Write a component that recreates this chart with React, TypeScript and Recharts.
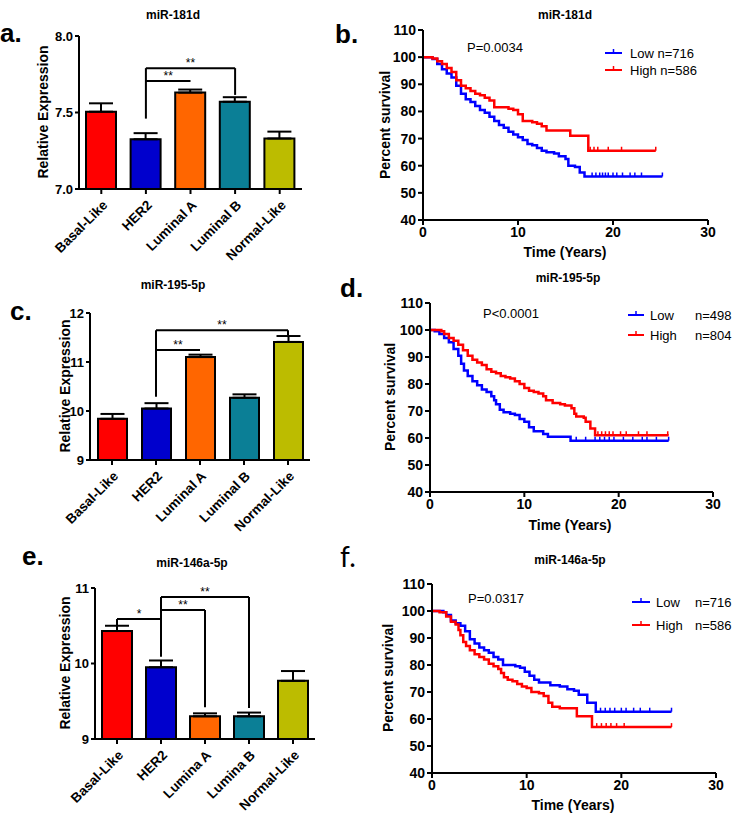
import React from 'react';
import {
  BarChart, Bar, XAxis, YAxis, ErrorBar, Cell, ReferenceLine, LineChart, Line,
} from 'recharts';

const FONT = "Arial, 'Liberation Sans', Helvetica, sans-serif";
const LETTER_FONT = "Lato, 'Liberation Sans', sans-serif";

// ---------- bar panels ----------
const subtypeNames = ['Basal-Like', 'HER2', 'Luminal A', 'Luminal B', 'Normal-Like'];
const subtypeNamesE = ['Basal-Like', 'HER2', 'Lumina A', 'Lumina B', 'Normal-Like'];
const subtypeColors = ['#ff0000', '#0000cd', '#ff6600', '#0b7f96', '#bcbc00'];

const a_means = [7.505, 7.325, 7.63, 7.57, 7.33];
const a_sem = [0.055, 0.04, 0.02, 0.03, 0.045];
const a_ticks = [7.0, 7.5, 8.0];

const c_means = [9.84, 10.05, 11.1, 10.27, 11.41];
const c_sem = [0.1, 0.11, 0.05, 0.07, 0.12];
const c_ticks = [9, 10, 11, 12];

const e_means = [10.43, 9.95, 9.3, 9.3, 9.77];
const e_sem = [0.07, 0.09, 0.04, 0.05, 0.13];
const e_ticks = [9, 10, 11];

const a_brackets = [
  { from: 'HER2', to: 'Luminal A', y: 7.706, label: '**' },
  { from: 'HER2', to: 'Luminal B', y: 7.79, label: '**' },
];
const a_drops = [
  { at: 'HER2', top: 7.79, bottom: 7.46 },
  { at: 'Luminal B', top: 7.79, bottom: 7.615 },
];
const c_brackets = [
  { from: 'HER2', to: 'Luminal A', y: 11.245, label: '**' },
  { from: 'HER2', to: 'Normal-Like', y: 11.65, label: '**' },
];
const c_drops = [
  { at: 'HER2', top: 11.65, bottom: 10.29 },
  { at: 'Normal-Like', top: 11.65, bottom: 11.55 },
];
const e_brackets = [
  { from: 'Basal-Like', to: 'HER2', y: 10.59, label: '*' },
  { from: 'HER2', to: 'Lumina A', y: 10.71, label: '**' },
  { from: 'HER2', to: 'Lumina B', y: 10.88, label: '**' },
];
const e_drops = [
  { at: 'Basal-Like', top: 10.59, bottom: 10.51 },
  { at: 'HER2', top: 10.88, bottom: 10.09 },
  { at: 'Lumina A', top: 10.71, bottom: 9.42 },
  { at: 'Lumina B', top: 10.88, bottom: 9.41 },
];

// ---------- survival panels ----------
const b_lowT = [0, 0.5, 1, 1.5, 2, 2.5, 3, 3.5, 4, 4.5, 5, 5.5, 6, 6.5, 7, 7.5, 8, 8.5, 9, 9.5, 10, 10.5, 11, 11.5, 12, 12.5, 13, 13.8, 14.3, 15, 15.3, 16, 16.5, 17, 25.2];
const b_lowS = [100, 100, 99.3, 97.5, 95.5, 94, 92.5, 89.5, 86.5, 84.5, 83.5, 82, 80.5, 79.5, 78, 76.5, 75, 74, 72.5, 71.5, 70.5, 69.5, 68, 67.5, 66.5, 65.5, 65, 64.5, 63.5, 62.5, 60, 59.5, 57.5, 56, 56];
const b_highT = [0, 1, 1.5, 2, 2.5, 3, 3.5, 4, 4.5, 5, 5.5, 6, 6.5, 7, 7.5, 9, 9.5, 10, 10.5, 11.5, 12, 12.5, 13, 15.5, 17.4, 24.5];
const b_highS = [100, 99.5, 98.5, 97.5, 96, 94.5, 91.5, 89.5, 88.5, 87.5, 86.5, 86, 85, 84, 81.5, 81, 80.5, 79, 76.5, 76, 75.5, 74.5, 73, 71, 65.5, 65.5];
const b_lowCensor = [17.8, 18.2, 18.6, 18.9, 19.2, 19.5, 20.0, 20.4, 21.0, 21.8, 22.3, 23.0, 25.2];
const b_highCensor = [17.6, 18.0, 18.4, 19.5, 20.9, 24.5];

const d_lowT = [0, 0.5, 1, 1.5, 2, 2.5, 3, 3.3, 3.6, 4, 4.5, 5, 5.5, 6, 6.5, 6.8, 7, 7.4, 7.8, 8.5, 9, 9.5, 10, 10.5, 11, 12, 12.5, 14.9, 25.3];
const d_lowS = [100, 99.5, 98.5, 97, 95.5, 93, 90.5, 87.5, 85, 83, 81, 79.5, 78, 77, 75.5, 74, 72.5, 70.5, 69.5, 69, 68.5, 67, 66, 64, 62.5, 61.5, 60.5, 59, 59];
const d_highT = [0, 1.2, 1.5, 2, 2.5, 3, 3.5, 4, 4.5, 5, 5.5, 6, 6.5, 7, 7.5, 8, 8.5, 9, 9.5, 10, 10.5, 11, 11.5, 12, 12.3, 13, 13.8, 14.3, 15, 15.3, 15.5, 16.3, 16.5, 17, 17.5, 25.3];
const d_highS = [100, 99.5, 98.5, 97, 96, 94.5, 92.5, 90.5, 89, 88, 87, 85.5, 84.5, 84, 83, 82.5, 82, 81, 80, 78.5, 77.5, 77, 76.5, 75.5, 74, 73, 72.5, 72, 71, 69, 68, 67.5, 66, 63.5, 61, 61];
const d_lowCensor = [15.5, 16.5, 17.5, 18.0, 18.5, 19.0, 19.5, 20.5, 21.5, 22.5, 23.0, 24.0, 25.3];
const d_highCensor = [17.8, 18.2, 18.6, 19.0, 19.4, 20.2, 20.8, 22.1, 23.0, 25.2];

const f_lowT = [0, 1.2, 1.5, 2, 2.5, 3, 3.5, 4, 4.5, 5, 5.5, 6, 6.5, 7, 7.5, 8.8, 9.3, 9.8, 10.3, 10.8, 11.3, 12.5, 13.5, 14.3, 15, 15.5, 16.4, 17.3, 25.3];
const f_lowS = [100, 99.5, 98.5, 96.5, 95.5, 94.5, 92.5, 89.5, 88, 86.5, 85.5, 84.5, 83, 82, 80, 79.5, 79, 77.5, 76, 74.5, 73.5, 72.5, 72, 71, 70.5, 69, 66, 62.7, 62.7];
const f_highT = [0, 0.8, 1.5, 2, 2.5, 2.8, 3, 3.3, 3.6, 4, 4.5, 5, 5.5, 6, 6.5, 7, 7.3, 7.6, 8, 8.5, 9, 9.5, 10, 10.5, 11.3, 11.8, 12.3, 12.7, 13.5, 15.3, 16.9, 25.3];
const f_highS = [100, 99.5, 98, 96, 95, 93, 91, 88.5, 87, 85.5, 84, 83, 82, 80.5, 79.5, 78.5, 77, 75.5, 74.5, 74, 73, 72, 71.5, 70, 69.5, 68.5, 66, 64.5, 64, 61, 57, 57];
const f_lowCensor = [17.8, 18.3, 18.8, 19.3, 20.0, 20.5, 21.3, 22.0, 23.0, 25.3];
const f_highCensor = [17.4, 17.9, 18.4, 18.9, 19.5, 20.3, 25.3];

const survTicksX = [0, 10, 20, 30];
const survTicksY = [40, 50, 60, 70, 80, 90, 100, 110];

const BLUE = '#0000ff';
const RED = '#ff0000';

const toSeries = (t: number[], s: number[]) => t.map((tt, i) => ({ t: tt, s: s[i] }));
const stepAt = (t: number[], s: number[], x: number) => {
  let v = s[0];
  for (let i = 0; i < t.length; i++) if (t[i] <= x) v = s[i];
  return v;
};
const toCensor = (t: number[], s: number[], c: number[]) => c.map((x) => ({ t: x, s: stepAt(t, s, x) }));

const axisStyle = { stroke: '#000', strokeWidth: 2 };

const RotTick = (p: any) => (
  <text
    transform={`translate(${p.x + 7},${p.y + 10}) rotate(-45)`}
    textAnchor="end"
    fontSize={13.5}
    fontWeight="bold"
    fontFamily={FONT}
    fill="#000"
  >
    {p.payload.value}
  </text>
);

function BarPanel(props: any) {
  const { names, means, sem, domain, ticks, fmt, width, height, margin, yWidth, xHeight, barSize, brackets, drops } = props;
  const data = names.map((n: string, i: number) => ({ name: n, value: means[i], err: [0, sem[i]] }));
  return (
    <BarChart width={width} height={height} data={data} margin={margin}>
      <XAxis
        dataKey="name"
        interval={0}
        height={xHeight}
        axisLine={axisStyle}
        tickLine={axisStyle}
        tickSize={5}
        tickMargin={2}
        tick={(p: any) => <RotTick {...p} />}
      />
      <YAxis
        type="number"
        domain={domain}
        ticks={ticks}
        allowDataOverflow
        width={yWidth}
        axisLine={axisStyle}
        tickLine={axisStyle}
        tickSize={4}
        tickMargin={2}
        tickFormatter={fmt}
        tick={{ fill: '#000', fontSize: 13, fontWeight: 'bold', fontFamily: FONT }}
      />
      <Bar dataKey="value" barSize={barSize} stroke="#000" strokeWidth={2} isAnimationActive={false}>
        {data.map((d: any, i: number) => (
          <Cell key={d.name} fill={subtypeColors[i]} />
        ))}
        <ErrorBar dataKey="err" width={12} strokeWidth={2} stroke="#000" direction="y" />
      </Bar>
      {drops.map((d: any, i: number) => (
        <ReferenceLine
          key={'d' + i}
          segment={[{ x: d.at, y: d.top }, { x: d.at, y: d.bottom }]}
          stroke="#000"
          strokeWidth={2}
          ifOverflow="visible"
        />
      ))}
      {brackets.map((b: any, i: number) => (
        <ReferenceLine
          key={'b' + i}
          segment={[{ x: b.from, y: b.y }, { x: b.to, y: b.y }]}
          stroke="#000"
          strokeWidth={2}
          ifOverflow="visible"
          label={{ value: b.label, position: 'top', offset: 1, fill: '#000', fontSize: 12, fontFamily: FONT }}
        />
      ))}
    </BarChart>
  );
}

const CensorDot = (color: string) => (p: any) => (
  <line key={`c${p.index}`} x1={p.cx} x2={p.cx} y1={p.cy - 4} y2={p.cy} stroke={color} strokeWidth={1.5} />
);

function SurvPanel(props: any) {
  const { width, height, margin, yWidth, xHeight, low, high, lowCensor, highCensor } = props;
  return (
    <LineChart width={width} height={height} margin={margin}>
      <XAxis
        type="number"
        dataKey="t"
        domain={[0, 30]}
        ticks={survTicksX}
        height={xHeight}
        axisLine={axisStyle}
        tickLine={axisStyle}
        tickSize={5}
        tickMargin={2}
        tick={{ fill: '#000', fontSize: 14, fontWeight: 'bold', fontFamily: FONT }}
      />
      <YAxis
        type="number"
        domain={[40, 110]}
        ticks={survTicksY}
        allowDataOverflow
        width={yWidth}
        axisLine={axisStyle}
        tickLine={axisStyle}
        tickSize={5}
        tickMargin={2}
        tick={{ fill: '#000', fontSize: 14, fontWeight: 'bold', fontFamily: FONT }}
      />
      <Line data={low} dataKey="s" type="stepAfter" stroke={BLUE} strokeWidth={2.5} dot={false} isAnimationActive={false} />
      <Line data={high} dataKey="s" type="stepAfter" stroke={RED} strokeWidth={2.5} dot={false} isAnimationActive={false} />
      <Line data={lowCensor} dataKey="s" stroke="none" dot={CensorDot(BLUE)} isAnimationActive={false} />
      <Line data={highCensor} dataKey="s" stroke="none" dot={CensorDot(RED)} isAnimationActive={false} />
    </LineChart>
  );
}

const LegendIcon = ({ x1, x2, y, color }: any) => (
  <g>
    <line x1={x1} x2={x2} y1={y} y2={y} stroke={color} strokeWidth={2} />
    <line x1={(x1 + x2) / 2} x2={(x1 + x2) / 2} y1={y - 4} y2={y} stroke={color} strokeWidth={1.5} />
  </g>
);

export default function App() {
  const pos = (left: number, top: number) => ({ position: 'absolute' as const, left, top });
  const bold12 = { fontSize: 12, fontWeight: 'bold' as const, fontFamily: FONT };
  const bold14 = { fontSize: 14, fontWeight: 'bold' as const, fontFamily: FONT };
  const reg13 = { fontSize: 13, fontFamily: FONT };
  const letter = { fontSize: 26, fontWeight: 'bold' as const, fontFamily: FONT };
  return (
    <div style={{ position: 'absolute', left: 0, top: 0, width: 735, height: 816, background: '#fff', overflow: 'hidden' }}>
      <div style={pos(0, 0)}>
        <BarPanel names={subtypeNames} means={a_means} sem={a_sem} domain={[7, 8]} ticks={a_ticks}
          fmt={(v: number) => v.toFixed(1)} width={320} height={275}
          margin={{ top: 36, right: 18, bottom: 26, left: 0 }} yWidth={79} xHeight={60} barSize={30}
          brackets={a_brackets} drops={a_drops} />
      </div>
      <div style={pos(0, 260)}>
        <BarPanel names={subtypeNames} means={c_means} sem={c_sem} domain={[9, 12]} ticks={c_ticks}
          fmt={(v: number) => String(v)} width={320} height={290}
          margin={{ top: 53, right: 10, bottom: 25, left: 0 }} yWidth={90} xHeight={65} barSize={29}
          brackets={c_brackets} drops={c_drops} />
      </div>
      <div style={pos(0, 540)}>
        <BarPanel names={subtypeNamesE} means={e_means} sem={e_sem} domain={[9, 11]} ticks={e_ticks}
          fmt={(v: number) => String(v)} width={320} height={276}
          margin={{ top: 48, right: 5, bottom: 12, left: 0 }} yWidth={95} xHeight={65} barSize={30}
          brackets={e_brackets} drops={e_drops} />
      </div>
      <div style={pos(340, 0)}>
        <SurvPanel width={395} height={260} margin={{ top: 30, right: 27, bottom: 10, left: 0 }} yWidth={83} xHeight={30}
          low={toSeries(b_lowT, b_lowS)} high={toSeries(b_highT, b_highS)}
          lowCensor={toCensor(b_lowT, b_lowS, b_lowCensor)} highCensor={toCensor(b_highT, b_highS, b_highCensor)} />
      </div>
      <div style={pos(340, 260)}>
        <SurvPanel width={395} height={280} margin={{ top: 43, right: 22, bottom: 13, left: 0 }} yWidth={90} xHeight={35}
          low={toSeries(d_lowT, d_lowS)} high={toSeries(d_highT, d_highS)}
          lowCensor={toCensor(d_lowT, d_lowS, d_lowCensor)} highCensor={toCensor(d_highT, d_highS, d_highCensor)} />
      </div>
      <div style={pos(340, 540)}>
        <SurvPanel width={395} height={276} margin={{ top: 44, right: 19, bottom: 10, left: 0 }} yWidth={92} xHeight={33}
          low={toSeries(f_lowT, f_lowS)} high={toSeries(f_highT, f_highS)}
          lowCensor={toCensor(f_lowT, f_lowS, f_lowCensor)} highCensor={toCensor(f_highT, f_highS, f_highCensor)} />
      </div>

      <svg width={735} height={816} style={{ position: 'absolute', left: 0, top: 0, pointerEvents: 'none' }}>
        {/* panel letters */}
        <text x={0} y={42} {...letter}>a.</text>
        <text x={335} y={43} {...letter}>b.</text>
        <text x={10} y={320} {...letter}>c.</text>
        <text x={340} y={297} {...letter}>d.</text>
        <text x={22} y={565} {...letter}>e.</text>
        <text x={340} y={567} fontSize={28} fontFamily={LETTER_FONT}>f.</text>

        {/* titles */}
        <text x={173} y={19} textAnchor="middle" {...bold12}>miR-181d</text>
        <text x={565} y={19} textAnchor="middle" {...bold12}>miR-181d</text>
        <text x={173} y={289} textAnchor="middle" {...bold12}>miR-195-5p</text>
        <text x={568} y={282} textAnchor="middle" {...bold12}>miR-195-5p</text>
        <text x={192} y={567} textAnchor="middle" {...bold12}>miR-146a-5p</text>
        <text x={570} y={564} textAnchor="middle" {...bold12}>miR-146a-5p</text>

        {/* y labels */}
        <text transform="translate(43,112) rotate(-90)" textAnchor="middle" dominantBaseline="central" {...bold14}>Relative Expression</text>
        <text transform="translate(65,386) rotate(-90)" textAnchor="middle" dominantBaseline="central" {...bold14}>Relative Expression</text>
        <text transform="translate(65,663) rotate(-90)" textAnchor="middle" dominantBaseline="central" {...bold14}>Relative Expression</text>
        <text transform="translate(385,125) rotate(-90)" textAnchor="middle" dominantBaseline="central" {...bold14}>Percent survival</text>
        <text transform="translate(390,397) rotate(-90)" textAnchor="middle" dominantBaseline="central" {...bold14}>Percent survival</text>
        <text transform="translate(388,678) rotate(-90)" textAnchor="middle" dominantBaseline="central" {...bold14}>Percent survival</text>

        {/* x labels */}
        <text x={565} y={257} textAnchor="middle" {...bold14}>Time (Years)</text>
        <text x={570} y={530} textAnchor="middle" {...bold14}>Time (Years)</text>
        <text x={573} y={810} textAnchor="middle" {...bold14}>Time (Years)</text>

        {/* p values */}
        <text x={467} y={52} {...reg13}>P=0.0034</text>
        <text x={483} y={318} {...reg13}>P&lt;0.0001</text>
        <text x={468} y={603} {...reg13}>P=0.0317</text>

        {/* legend b */}
        <LegendIcon x1={605} x2={622} y={53} color={BLUE} />
        <text x={630} y={57.5} {...reg13}>Low n=716</text>
        <LegendIcon x1={605} x2={622} y={70} color={RED} />
        <text x={630} y={74.5} {...reg13}>High n=586</text>

        {/* legend d */}
        <LegendIcon x1={628} x2={644} y={315} color={BLUE} />
        <text x={650} y={319.5} {...reg13}>Low</text>
        <text x={695} y={319.5} {...reg13}>n=498</text>
        <LegendIcon x1={628} x2={644} y={335} color={RED} />
        <text x={650} y={339.5} {...reg13}>High</text>
        <text x={695} y={339.5} {...reg13}>n=804</text>

        {/* legend f */}
        <LegendIcon x1={632} x2={650} y={602} color={BLUE} />
        <text x={656} y={606.5} {...reg13}>Low</text>
        <text x={695} y={606.5} {...reg13}>n=716</text>
        <LegendIcon x1={632} x2={650} y={625} color={RED} />
        <text x={656} y={629.5} {...reg13}>High</text>
        <text x={695} y={629.5} {...reg13}>n=586</text>
      </svg>
    </div>
  );
}
